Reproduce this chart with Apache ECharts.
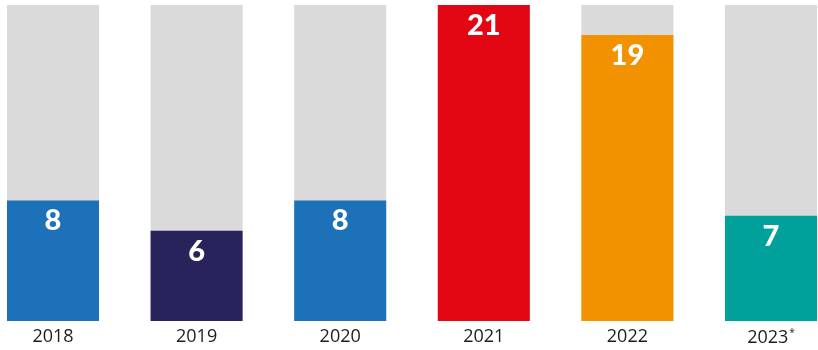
<!DOCTYPE html>
<html>
<head>
<meta charset="utf-8">
<script src="https://cdn.jsdelivr.net/npm/echarts@6/dist/echarts.min.js"></script>
<style>
  html, body { margin: 0; padding: 0; background: #fff; }
  #chart { width: 818px; height: 350px; }
</style>
</head>
<body>
<div id="chart"></div>
<script>
// Yearly counts, one coloured column per year against a full-height grey track
const years = ['2018', '2019', '2020', '2021', '2022', '2023*'];
const counts = [8, 6, 8, 21, 19, 7];
const barColors = ['#1d71b8', '#29235c', '#1d71b8', '#e30613', '#f39200', '#00a19a'];
const axisMax = 21;

const chart = echarts.init(document.getElementById('chart'));

chart.setOption({
  animation: false,
  grid: { left: 53, right: 47, top: 5, bottom: 29 },
  xAxis: {
    type: 'category',
    data: years,
    boundaryGap: false,
    axisLine: { show: false },
    axisTick: { show: false },
    axisLabel: {
      interval: 0,
      hideOverlap: false,
      margin: 7,
      color: '#1d1d1b',
      fontFamily: 'Open Sans',
      fontSize: 18,
      formatter: function (v) {
        if (v.endsWith('*')) {
          return '{y|' + v.slice(0, -1) + '}{s|*}';
        }
        return '{y|' + v + '}';
      },
      rich: {
        y: { fontFamily: 'Open Sans', fontSize: 18, color: '#1d1d1b' },
        s: { fontFamily: 'Open Sans', fontSize: 10, color: '#1d1d1b', verticalAlign: 'top', padding: [0, 0, 10, 1] }
      }
    }
  },
  yAxis: {
    type: 'value',
    min: 0,
    max: axisMax,
    show: false,
    splitLine: { show: false }
  },
  series: [{
    type: 'bar',
    clip: false,
    barWidth: 92,
    showBackground: true,
    backgroundStyle: { color: '#dadada' },
    data: counts.map(function (v, i) {
      return { value: v, itemStyle: { color: barColors[i] } };
    }),
    label: {
      show: true,
      position: 'insideTop',
      distance: 6,
      color: '#ffffff',
      fontFamily: 'Lato',
      fontWeight: 900,
      fontSize: 29
    }
  }]
});
</script>
</body>
</html>
